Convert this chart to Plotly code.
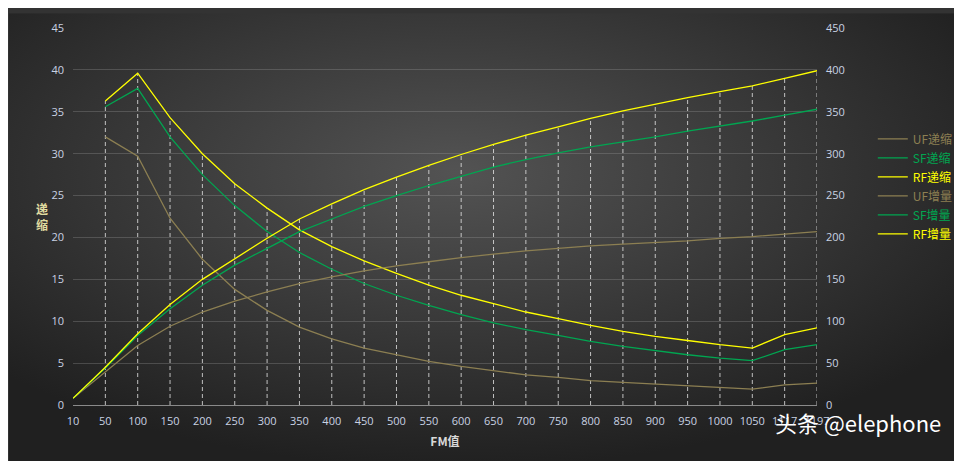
import plotly.graph_objects as go

fm = ["10","50","100","150","200","250","300","350","400","450","500","550","600","650","700","750","800","850","900","950","1000","1050","1117","1197"]
uf_dec = [None,32,29.7,22.3,17.4,13.8,11.3,9.3,7.9,6.8,6.0,5.2,4.6,4.1,3.6,3.3,2.9,2.7,2.5,2.3,2.1,1.9,2.4,2.6]
sf_dec = [None,35.6,37.8,32,27.5,23.8,20.7,18.2,16.2,14.5,13.1,11.9,10.8,9.8,9.0,8.3,7.6,7.0,6.5,6.0,5.6,5.3,6.6,7.2]
rf_dec = [None,36.3,39.6,34.3,30,26.4,23.5,20.9,18.9,17.2,15.7,14.3,13.1,12.1,11.1,10.3,9.5,8.8,8.2,7.7,7.2,6.8,8.4,9.2]
uf_inc = [8,40,71,94,111,124,135,145,153,160,166,171,176,180,184,187,190,192,194,196,199,201,204,207]
sf_inc = [8,44,83,115,143,167,187,207,222,237,250,262,273,284,293,301,308,314,320,327,333,339,346,353]
rf_inc = [8,45,85,120,150,175,199,222,240,257,272,286,299,311,322,332,342,351,359,367,374,381,390,399]

UF, SF, RF = "#8c7f52", "#00a651", "#ffff00"
xs = list(range(len(fm)))

fig = go.Figure()

dx, dy = [], []
for i in xs[1:]:
    vals = [v for v in (uf_dec[i], sf_dec[i], rf_dec[i]) if v is not None] + [rf_inc[i]/10]
    dx += [i, i, None]; dy += [0, max(vals), None]
fig.add_trace(go.Scatter(x=dx, y=dy, mode="lines", line=dict(color="rgba(230,230,230,0.8)", width=1, dash="4px,3px"),
                         showlegend=False, hoverinfo="skip"))

def lbl(n, c):
    return f"<span style='color:{c}'>{n}</span>"

for name, d, c in [("UF递缩", uf_dec, UF), ("SF递缩", sf_dec, SF), ("RF递缩", rf_dec, RF)]:
    fig.add_trace(go.Scatter(x=xs, y=d, mode="lines", name=lbl(name, c), line=dict(color=c, width=1.3)))
for name, d, c in [("UF增量", uf_inc, UF), ("SF增量", sf_inc, SF), ("RF增量", rf_inc, RF)]:
    fig.add_trace(go.Scatter(x=xs, y=d, mode="lines", name=lbl(name, c), line=dict(color=c, width=1.3), yaxis="y2"))

svg = ("data:image/svg+xml;utf8,<svg xmlns='http://www.w3.org/2000/svg' width='962' height='461'>"
       "<defs><radialGradient id='g' cx='0.47' cy='0.35' r='0.65'>"
       "<stop offset='0' stop-color='%23535353'/><stop offset='1' stop-color='%23202020'/>"
       "</radialGradient></defs><rect width='962' height='461' fill='url(%23g)'/></svg>")

tickfont = dict(color="#c9d2e3", size=11, family="Segoe UI, Open Sans, sans-serif")
fig.update_layout(
    width=962, height=461, margin=dict(l=65, r=144, t=15, b=64),
    paper_bgcolor="#333333", plot_bgcolor="rgba(0,0,0,0)",
    images=[dict(source=svg, xref="paper", yref="paper", x=-65/753, y=1+15/382, sizex=962/753, sizey=461/382,
                 sizing="stretch", layer="below", xanchor="left", yanchor="top")],
    xaxis=dict(tickvals=xs, ticktext=fm, range=[0, len(fm)-1], showgrid=False, tickfont=tickfont,
               showline=True, linecolor="#8a8a8a", ticks="", zeroline=False, ticklabelstandoff=6,
               title=dict(text="<b>FM值</b>", font=dict(color="#d8d8d8", size=12), standoff=10)),
    yaxis=dict(range=[0, 45], dtick=5, gridcolor="rgba(160,160,160,0.3)", tickfont=tickfont, zeroline=False,
               ticks="", ticklabelstandoff=8),
    yaxis2=dict(range=[0, 450], dtick=50, overlaying="y", side="right", showgrid=False, tickfont=tickfont,
                zeroline=False, ticklabelstandoff=8),
    legend=dict(x=1.075, y=0.58, yanchor="middle", bgcolor="rgba(0,0,0,0)", font=dict(size=12, color="#cccccc"),
                tracegroupgap=0),
    annotations=[
        dict(text="<b>递<br>缩</b>", x=-0.052, y=0.5, xref="paper", yref="paper", showarrow=False,
             font=dict(color="#e0dca0", size=12, family="Noto Sans CJK SC")),
        dict(text="头条 @elephone", x=(946-65)/753, y=(397-432)/382, xref="paper", yref="paper", showarrow=False,
             xanchor="right", font=dict(color="white", size=22, family="Noto Sans CJK SC")),
    ],
    font=dict(family="Noto Sans CJK SC"),
)
fig.write_html("out.html")
